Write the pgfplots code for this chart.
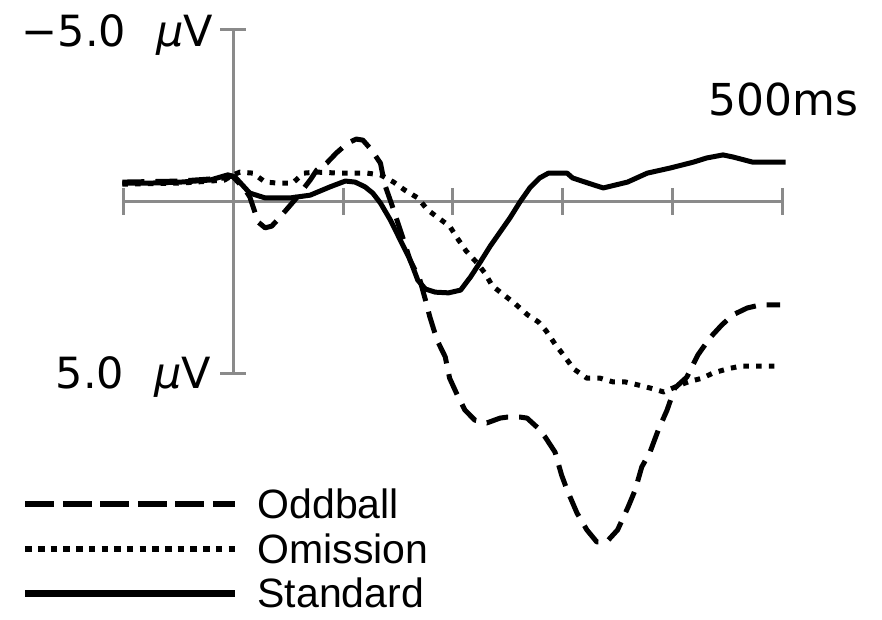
\documentclass[border=0pt]{standalone}
\usepackage{pgfplots}
\pgfplotsset{compat=1.18}
\usepackage{fontspec}
\setmainfont{DejaVu Sans}
\newfontfamily\legfont{Liberation Sans}
\definecolor{axgray}{RGB}{138,138,138}

\begin{document}
\begin{tikzpicture}
\begin{axis}[
  scale only axis, width=882pt, height=619pt,
  xmin=-212.5, xmax=590.8, ymin=-5.843, ymax=12.151, y dir=reverse,
  hide axis, clip=false,
  every axis plot/.append style={line width=5pt, black, line join=round},
  legend cell align=left,
  legend style={at={(axis cs:-192.4,8.36)}, anchor=north west,
    draw=none, fill=none, inner sep=0pt, outer sep=0pt,
    row sep=13.5pt, column sep=0pt,
    font=\legfont\fontsize{41}{41}\selectfont,
    nodes={inner sep=0pt, outer sep=0pt}},
  legend image code/.code={\draw[#1] (0pt,0pt) -- (210pt,0pt);},
]
% bounding box
\path (rel axis cs:0,0) rectangle (rel axis cs:1,1);
% axes
\draw[axgray, line width=3pt] (axis cs:-100,0) -- (axis cs:500,0);
\pgfplotsinvokeforeach{-100,0,100,200,300,400,500}{
  \draw[axgray, line width=3pt] (axis cs:#1,-0.38) -- (axis cs:#1,0.40);
}
\draw[axgray, line width=3pt] (axis cs:0,-5) -- (axis cs:0,5);
\draw[axgray, line width=3pt] (axis cs:-12,-5) -- (axis cs:12,-5);
\draw[axgray, line width=3pt] (axis cs:-12,5) -- (axis cs:12,5);

% Oddball
\addplot[dash pattern=on 22pt off 11pt, forget plot] coordinates {
(-101,-0.55) (-48,-0.58) (-8,-0.67) (-1,-0.73) (11,-0.32) (15,-0.12) (19,0.26)
(22.5,0.61) (29,0.78) (35,0.73) (42.5,0.47) (56,-0.03) (70,-0.61) (76,-0.90)
(85,-1.10) (94,-1.40) (104.5,-1.69) (112,-1.80) (118,-1.77) (126,-1.48) (134,-1.10)
(138,-0.47) (144.5,0.12) (149,0.55) (155,1.13) (161,1.72) (170,2.30) (175,2.88)
(179,3.37) (185.5,4.04) (193,4.53) (197,5.15) (204,5.64) (211,6.08) (220,6.37)
(231,6.45) (243,6.31) (250,6.28) (261,6.28) (267.5,6.31) (277.5,6.60) (284,6.86)
(293,7.30) (299,7.97) (304,8.40) (313,9.07) (322,9.56) (331,9.91) (340,9.91)
(350,9.56) (359.5,8.90) (366,8.40) (372,7.73) (379.5,7.30) (387,6.66) (395,6.08)
(402,5.44) (413,5.12) (423,4.48) (434,3.98) (445,3.60) (455,3.31) (468,3.11)
(480,3.02) (498,3.02)
};
% Omission
\addplot[line cap=butt, dash pattern=on 5.5pt off 7.2pt, forget plot] coordinates {
(-101,-0.49) (-48,-0.52) (-8,-0.61) (0,-0.76) (6,-0.84) (18,-0.81) (29,-0.55)
(41,-0.52) (54,-0.52) (64,-0.81) (76,-0.84) (97,-0.81) (122,-0.81) (134,-0.76)
(146,-0.55) (156,-0.32) (168,-0.09) (177,0.26) (188,0.52) (197,0.73) (204,1.08)
(212,1.45) (222,1.80) (229,2.09) (236,2.47) (244,2.67) (256,2.97) (268,3.31)
(278,3.52) (285,3.78) (293,4.16) (302,4.53) (310,4.88) (322,5.15) (334,5.15)
(346,5.26) (357,5.26) (369,5.35) (380,5.44) (392,5.55) (403,5.40) (414,5.26)
(427,5.15) (437,5.00) (450,4.88) (462,4.80) (472,4.80) (484,4.80) (498,4.80)
};
% Standard
\addplot[forget plot] coordinates {
(-101,-0.52) (-76,-0.52) (-48,-0.55) (-21,-0.61) (-5,-0.76) (1.5,-0.70) (15,-0.23)
(29,-0.09) (52,-0.09) (70,-0.17) (88,-0.41) (102,-0.58) (111,-0.55) (120,-0.41)
(127,-0.23) (134,0.06) (143,0.55) (152,1.13) (161,1.71) (168,2.30) (175,2.56)
(184,2.65) (196,2.67) (207,2.59) (216,2.21) (225,1.77) (234,1.31) (243,0.90)
(252,0.49) (261,0.03) (270,-0.38) (279,-0.67) (287,-0.81) (304,-0.81) (309,-0.67)
(328,-0.47) (337,-0.38) (359,-0.55) (377,-0.81) (398,-0.96) (419,-1.13) (431,-1.25)
(446,-1.34) (455,-1.28) (473,-1.13) (503,-1.13)
};

\addlegendimage{line width=6.5pt, black, dash pattern=on 29pt off 8.5pt}
\addlegendentry{\hspace{19pt}Oddball}
\addlegendimage{line width=6.5pt, black, line cap=butt, dash pattern=on 6.5pt off 6.2pt}
\addlegendentry{\hspace{19pt}Omission}
\addlegendimage{line width=6.5pt, black}
\addlegendentry{\hspace{19pt}Standard}

% labels
\node[anchor=base east, inner sep=0pt, font=\fontsize{43}{43}\selectfont]
  at (axis cs:-18.5,-4.48) {−5.0\hspace{30pt}\textit{µ}V};
\node[anchor=base east, inner sep=0pt, font=\fontsize{43}{43}\selectfont]
  at (axis cs:-20.3,5.44) {5.0\hspace{30pt}\textit{µ}V};
\node[anchor=base west, inner sep=0pt, font=\fontsize{44}{44}\selectfont]
  at (axis cs:432.5,-2.5) {500ms};
\end{axis}
\end{tikzpicture}
\end{document}
